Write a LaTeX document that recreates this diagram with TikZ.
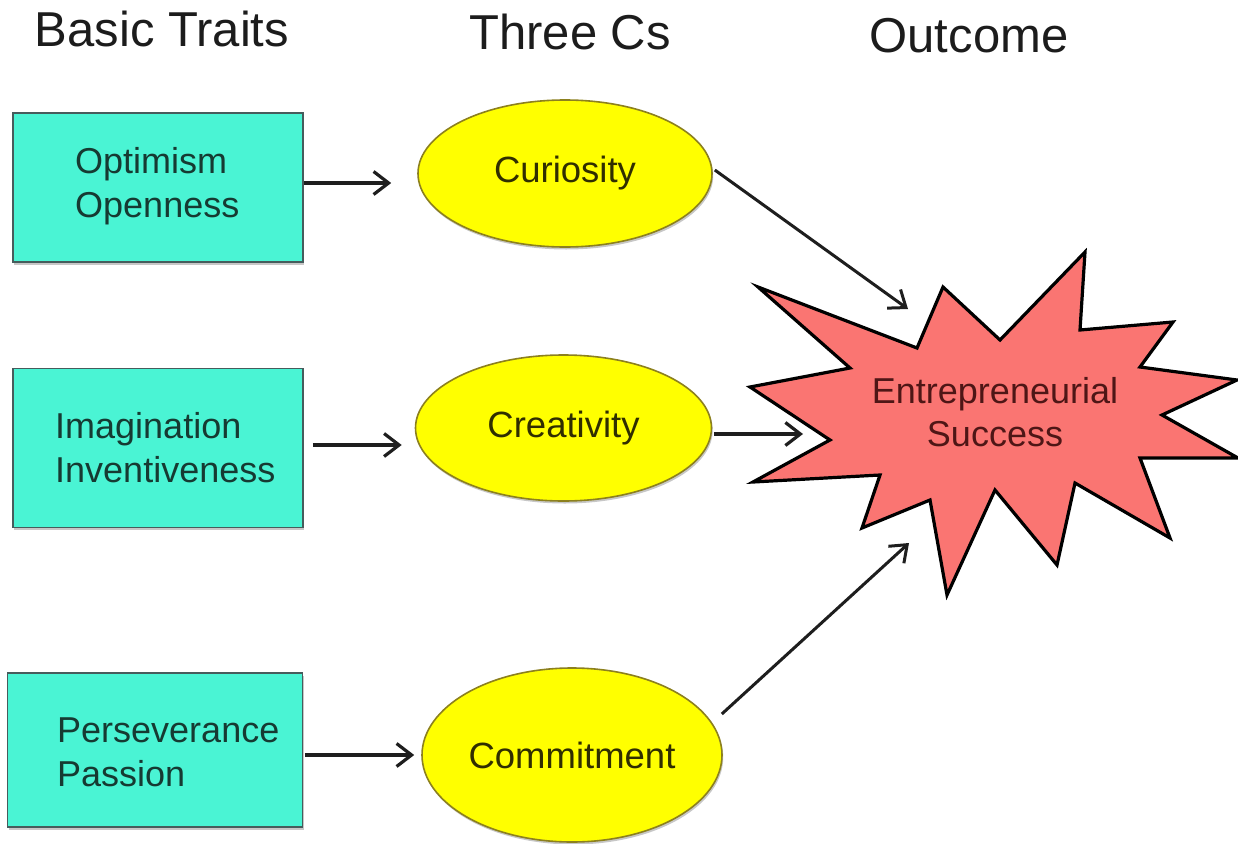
\documentclass[tikz,border=0pt]{standalone}
\usepackage{fontspec}
\setmainfont{Liberation Sans}
\usetikzlibrary{arrows.meta,shapes.geometric,shadows}

\definecolor{traitfill}{RGB}{74,244,212}
\definecolor{traitline}{RGB}{70,92,92}
\definecolor{traittext}{RGB}{22,58,50}
\definecolor{cfill}{RGB}{255,255,0}
\definecolor{cline}{RGB}{140,128,30}
\definecolor{ctext}{RGB}{48,46,0}
\definecolor{starfill}{RGB}{250,117,114}
\definecolor{startext}{RGB}{78,22,22}
\definecolor{headtext}{RGB}{28,28,28}
\definecolor{arrowink}{RGB}{30,30,30}

\tikzset{
  softshadow/.style={drop shadow={shadow xshift=1.2pt, shadow yshift=-2.5pt, fill=black, opacity=0.22}},
  traitbox/.style={draw=traitline, line width=1.6pt, fill=traitfill, rectangle,
    inner sep=0pt, softshadow},
  traitlabel/.style={anchor=west, align=left, inner sep=0pt, text=traittext,
    font=\fontsize{36}{44}\selectfont},
  cnode/.style={draw=cline, line width=1.6pt, fill=cfill, ellipse, inner sep=0pt,
    text=ctext, font=\fontsize{36.5}{44}\selectfont, softshadow},
  heading/.style={inner sep=0pt, text=headtext, font=\fontsize{49}{58}\selectfont},
  starlabel/.style={align=center, inner sep=0pt, text=startext,
    font=\fontsize{36}{43}\selectfont},
  flow/.style={-{Straight Barb[length=15pt,width=23pt,line width=3.2pt]}, line width=3.8pt,
    draw=arrowink},
  feed/.style={-{Straight Barb[length=15pt,width=23pt,line width=3pt]}, line width=3pt,
    draw=arrowink}
}

\begin{document}
\begin{tikzpicture}[x=1pt, y=-1pt]
  \useasboundingbox (0,0) rectangle (1238,843);

  % column headings
  \node[heading] (h1) at (162,29) {Basic Traits};
  \node[heading] (h2) at (570,32) {Three Cs};
  \node[heading] (h3) at (969,36) {Outcome};

  % basic traits
  \node[traitbox, minimum width=290pt, minimum height=149pt] (b1) at (158,187.5) {};
  \node[traitbox, minimum width=290pt, minimum height=159pt] (b2) at (158,448) {};
  \node[traitbox, minimum width=295pt, minimum height=154pt] (b3) at (155,750) {};
  \node[traitlabel] (t1) at (75,186) {Optimism\\Openness};
  \node[traitlabel] (t2) at (55,448) {Imagination\\Inventiveness};
  \node[traitlabel] (t3) at (57,752) {Perseverance\\Passion};

  % the three Cs
  \node[cnode, minimum width=294pt, minimum height=147pt] (c1) at (565,173.5) {Curiosity};
  \node[cnode, minimum width=296pt, minimum height=146pt] (c2) at (563.5,428) {Creativity};
  \node[cnode, minimum width=300pt, minimum height=174pt] (c3) at (572,755) {Commitment};

  % outcome burst
  \draw[line width=3.2pt, line join=miter, fill=starfill, draw=black]
    (750,387) -- (850,368) -- (758,287) -- (917,348) -- (943,287) -- (1000,340)
    -- (1085,252) -- (1080,330) -- (1173,322) -- (1140,367) -- (1237,380)
    -- (1162,415) -- (1238,458) -- (1140,458) -- (1170,538) -- (1075,483)
    -- (1057,565) -- (995,490) -- (947,595) -- (930,500) -- (862,528)
    -- (880,475) -- (753,482) -- (830,440) -- cycle;
  \node[starlabel] (succ) at (995,412) {Entrepreneurial\\Success};

  \coordinate (tip1) at (908,309);
  \coordinate (tip2) at (803,434);
  \coordinate (tip3) at (909,543);

  % traits to Cs
  \draw[flow] ([yshift=4.5pt]b1.east) -- ([xshift=-26pt,yshift=-9.5pt]c1.west);
  \draw[flow] ([xshift=9pt,yshift=3pt]b2.east) -- ([xshift=-13pt,yshift=-17pt]c2.west);
  \draw[flow] ([xshift=1.5pt,yshift=-5pt]b3.east) -- ([xshift=-7pt]c3.west);

  % Cs to outcome
  \draw[feed] ([xshift=2pt,yshift=3.5pt]c1.east) -- (tip1);
  \draw[flow] ([xshift=1.5pt,yshift=-6pt]c2.east) -- (tip2);
  \draw[feed] ([xshift=-1pt,yshift=41pt]c3.east) -- (tip3);
\end{tikzpicture}
\end{document}
